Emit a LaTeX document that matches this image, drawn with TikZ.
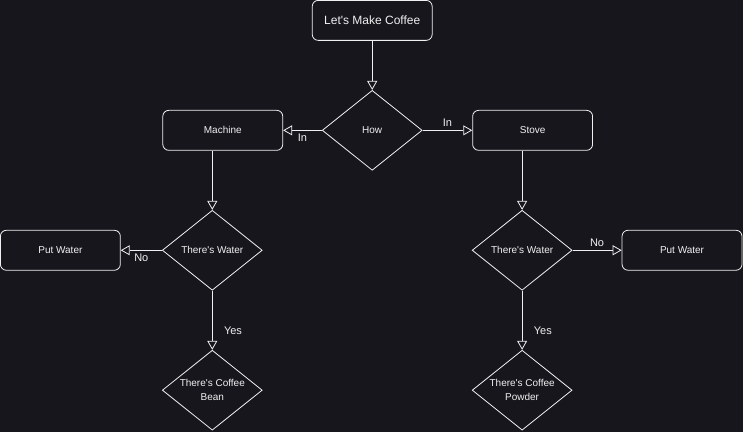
\documentclass[tikz,border=0pt]{standalone}
\usepackage{fontspec}
\setmainfont{Liberation Sans}
\usetikzlibrary{shapes.geometric,arrows.meta}
\definecolor{bgcol}{RGB}{24,22,29}
\definecolor{ink}{RGB}{240,240,240}
\tikzset{
	stepbox/.style={draw=ink, rounded corners=6pt, minimum width=120pt, minimum height=40pt, inner sep=0pt, font=\fontsize{10}{12}\selectfont},
	choice/.style={draw=ink, shape=diamond, aspect=1.25, inner sep=0pt, minimum width=100pt, minimum height=80pt, align=center, font=\fontsize{10}{14}\selectfont},
	flow/.style={draw=ink, line width=0.8pt, -{Triangle[open, length=9pt, width=10pt]}},
	lbl/.style={font=\fontsize{11}{13}\selectfont, text=ink}
}
\newcommand{\apos}{\textquotesingle}
\begin{document}
\begin{tikzpicture}[x=1pt, y=-1pt, text=ink, line width=0.8pt]
		\fill[bgcol] (0,0) rectangle (743,432);
		\node[stepbox, font=\fontsize{12}{14}\selectfont] (start) at (372,20) {Let\apos s Make Coffee};
		\node[choice] (how) at (372,130) {How};
		\node[stepbox] (machine) at (222.5,130) {Machine};
		\node[stepbox] (stove) at (532.5,130) {Stove};
		%
		\node[choice] (waterm) at (212,250) {There\apos s Water};
		\node[stepbox] (putm) at (60,250) {Put Water};
		\node[choice] (bean) at (212,390) {There\apos s Coffee\\Bean};
		%
		\node[choice] (waters) at (522,250) {There\apos s Water};
		\node[stepbox] (puts) at (682,250) {Put Water};
		\node[choice] (powder) at (522,390) {There\apos s Coffee\\Powder};
		%
		\draw [flow] (start) to (how);
		\draw [flow] (how.west) to node[lbl, below] {In} (machine.east);
		\draw [flow] (how.east) to node[lbl, above] {In} (stove.west);
		%
		\draw [flow] (waterm.north |- machine.south) to (waterm.north);
		\draw [flow] (waterm.west) to node[lbl, below] {No} (putm.east);
		\draw [flow] (waterm.south) to node[lbl, right=8pt, pos=0.67] {Yes} (bean.north);
		%
		\draw [flow] (waters.north |- stove.south) to (waters.north);
		\draw [flow] (waters.east) to node[lbl, above] {No} (puts.west);
		\draw [flow] (waters.south) to node[lbl, right=8pt, pos=0.67] {Yes} (powder.north);
	\end{tikzpicture}
\end{document}
